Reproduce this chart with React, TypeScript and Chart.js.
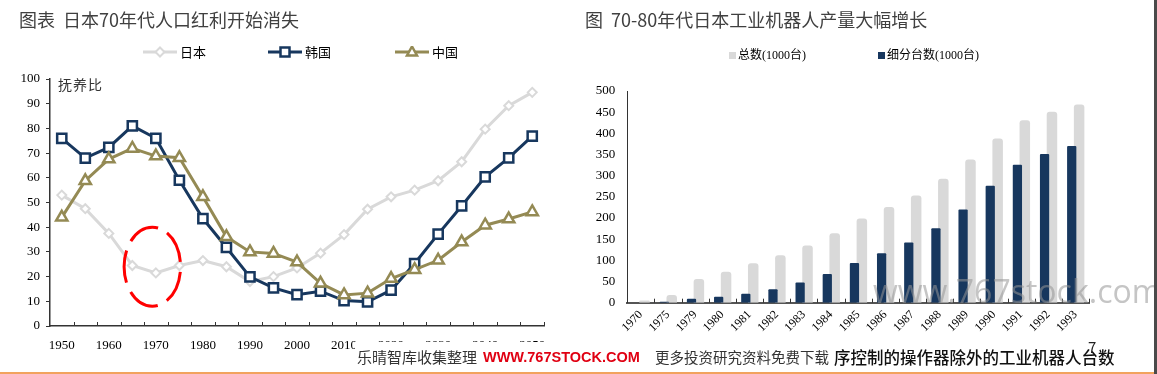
import React, { useEffect, useRef } from "react";
import { Chart, registerables } from "chart.js";

Chart.register(...registerables);

// ---------- Left chart data ----------
const YEARS = [
  "1950", "1955", "1960", "1965", "1970", "1975", "1980", "1985", "1990", "1995", "2000",
  "2005", "2010", "2015", "2020", "2025", "2030", "2035", "2040", "2045", "2050",
];
const JAPAN = [53, 47.5, 37.5, 24.5, 21.5, 24.5, 26.5, 24, 18, 20, 23.5, 29.5, 37, 47.3, 52.3, 55, 58.8, 66.5, 79.7, 89.2, 94.6];
const KOREA = [76, 68, 72.3, 81, 76, 59, 43.5, 31.8, 19.9, 15.4, 12.7, 14.1, 10.3, 9.8, 14.5, 25.3, 37.2, 48.6, 60.4, 68.1, 76.9];
const CHINA = [44, 58.8, 67.6, 71.9, 68.8, 68.1, 52.3, 36.1, 30, 29.4, 25.9, 17.3, 12.6, 13.3, 19.2, 22.8, 26.6, 34, 40.8, 43.3, 46.2];
const LEFT_SERIES_NAMES = ["日本", "韩国", "中国"];
const LEFT_Y_MAX = 100;
const LEFT_Y_STEP = 10;
// highlighted region (annotation) around 1970
const HIGHLIGHT_INDEX = 3.85;
const HIGHLIGHT_VALUE = 24;
const HIGHLIGHT_RX_CATS = 1.2;
const HIGHLIGHT_RY_VALUE = 16;
const HIGHLIGHT_DASHES = 5;

// ---------- Right chart data ----------
const BAR_YEARS = ["1970", "1975", "1979", "1980", "1981", "1982", "1983", "1984", "1985", "1986", "1987", "1988", "1989", "1990", "1991", "1992", "1993"];
const TOTAL = [5, 18, 56, 73, 93, 112, 135, 164, 199, 226, 253, 293, 338, 388, 431, 451, 468];
const SUBSET = [0, 2.5, 9.5, 14, 21, 32, 48, 68, 94, 117, 142, 176, 220, 276, 326, 351, 370];
const BAR_SERIES_NAMES = ["总数(1000台)", "细分台数(1000台)"];
const RIGHT_Y_MAX = 500;
const RIGHT_Y_STEP = 50;

const GRAY = "#D9D9D9";
const NAVY = "#17375E";
const OLIVE = "#948A54";
const SERIF = '"Liberation Serif", "Times New Roman", "Noto Sans CJK SC", serif';
const SANS_CJK = '"Noto Sans CJK SC", "Noto Sans", sans-serif';

const leftPlugin = {
  id: "leftDecor",
  afterDatasetsDraw(chart: any) {
    const { ctx, scales } = chart;
    const x = scales.x;
    const y = scales.y;
    const step = x.getPixelForValue(1) - x.getPixelForValue(0);
    const cx = x.getPixelForValue(0) + step * HIGHLIGHT_INDEX;
    const cy = y.getPixelForValue(HIGHLIGHT_VALUE);
    const rx = step * HIGHLIGHT_RX_CATS;
    const ry = Math.abs(y.getPixelForValue(0) - y.getPixelForValue(HIGHLIGHT_RY_VALUE));
    const perim = Math.PI * (3 * (rx + ry) - Math.sqrt((3 * rx + ry) * (rx + 3 * ry)));
    const period = perim / HIGHLIGHT_DASHES;
    const dash = period * 0.76;
    const gap = period - dash;
    ctx.save();
    ctx.strokeStyle = "#FF0000";
    ctx.lineWidth = 3;
    ctx.setLineDash([dash, gap]);
    ctx.lineDashOffset = dash + gap / 2;
    ctx.beginPath();
    ctx.ellipse(cx, cy, rx, ry, 0, 0, Math.PI * 2);
    ctx.stroke();
    ctx.restore();
  },
  afterDraw(chart: any) {
    const { ctx, chartArea } = chart;
    const n = YEARS.length;
    const w = (chartArea.right - chartArea.left) / n;
    ctx.save();
    ctx.strokeStyle = "#333";
    ctx.lineWidth = 1;
    for (let i = 1; i <= n; i++) {
      const px = Math.round(chartArea.left + i * w) + 0.5;
      ctx.beginPath();
      ctx.moveTo(px, chartArea.bottom);
      ctx.lineTo(px, chartArea.bottom - 4);
      ctx.stroke();
    }
    ctx.restore();
  },
};

const rightPlugin = {
  id: "rightDecor",
  afterDraw(chart: any) {
    const { ctx, chartArea } = chart;
    const n = BAR_YEARS.length;
    const w = (chartArea.right - chartArea.left) / n;
    ctx.save();
    ctx.strokeStyle = "#333";
    ctx.lineWidth = 1;
    for (let i = 1; i <= n; i++) {
      const px = Math.round(chartArea.left + i * w) + 0.5;
      ctx.beginPath();
      ctx.moveTo(px, chartArea.bottom);
      ctx.lineTo(px, chartArea.bottom - 4);
      ctx.stroke();
    }
    ctx.restore();
  },
};

function LeftChart() {
  const ref = useRef<HTMLCanvasElement>(null);
  useEffect(() => {
    const chart = new Chart(ref.current as HTMLCanvasElement, {
      type: "line",
      data: {
        labels: YEARS,
        datasets: [
          {
            label: LEFT_SERIES_NAMES[0],
            data: JAPAN,
            borderColor: GRAY,
            borderWidth: 3,
            pointStyle: "rectRot",
            pointRadius: 4.5,
            pointBorderWidth: 2,
            pointBackgroundColor: "#fff",
            pointBorderColor: GRAY,
            tension: 0,
            order: 2,
          },
          {
            label: LEFT_SERIES_NAMES[1],
            data: KOREA,
            borderColor: NAVY,
            borderWidth: 3,
            pointStyle: "rect",
            pointRadius: 6.5,
            pointBorderWidth: 2.5,
            pointBackgroundColor: "#fff",
            pointBorderColor: NAVY,
            tension: 0,
            order: 1,
          },
          {
            label: LEFT_SERIES_NAMES[2],
            data: CHINA,
            borderColor: OLIVE,
            borderWidth: 3,
            pointStyle: "triangle",
            pointRadius: 6.5,
            pointBorderWidth: 2.5,
            pointBackgroundColor: "#fff",
            pointBorderColor: OLIVE,
            tension: 0,
            order: 0,
          },
        ],
      },
      options: {
        responsive: false,
        animation: false,
        devicePixelRatio: 1,
        layout: { padding: { top: 79, right: 31, left: 0, bottom: 0 } },
        plugins: { legend: { display: false }, tooltip: { enabled: false } },
        scales: {
          x: {
            offset: true,
            grid: { display: false, drawTicks: false },
            border: { display: true, color: "#333", width: 1.5 },
            ticks: {
              autoSkip: false,
              maxRotation: 0,
              minRotation: 0,
              padding: 12,
              color: "#000",
              font: { family: SERIF, size: 13 },
              callback: (_v: any, i: number) => (i % 2 === 0 ? YEARS[i] : ""),
            },
            afterFit: (s: any) => {
              s.height = 48;
            },
          },
          y: {
            min: 0,
            max: LEFT_Y_MAX,
            ticks: { stepSize: LEFT_Y_STEP, padding: 6, color: "#000", font: { family: SERIF, size: 13 } },
            grid: { drawOnChartArea: false, tickLength: 4, color: "#333" },
            border: { display: true, color: "#333", width: 1.5 },
            afterFit: (s: any) => {
              s.width = 50;
            },
          },
        },
      } as any,
      plugins: [leftPlugin],
    });
    return () => chart.destroy();
  }, []);
  return (
    <canvas
      ref={ref}
      width={575}
      height={374}
      style={{ position: "absolute", left: 0, top: 0, width: 575, height: 374 }}
    />
  );
}

function RightChart() {
  const ref = useRef<HTMLCanvasElement>(null);
  useEffect(() => {
    const chart = new Chart(ref.current as HTMLCanvasElement, {
      type: "bar",
      data: {
        labels: BAR_YEARS,
        datasets: [
          {
            label: BAR_SERIES_NAMES[0],
            data: TOTAL,
            backgroundColor: GRAY,
            borderWidth: 0,
            borderRadius: 3,
            categoryPercentage: 0.545,
            barPercentage: 1.42,
            order: 1,
          },
          {
            label: BAR_SERIES_NAMES[1],
            data: SUBSET,
            backgroundColor: NAVY,
            borderWidth: 0,
            borderRadius: 1,
            categoryPercentage: 0.545,
            barPercentage: 1.25,
            order: 0,
          },
        ],
      },
      options: {
        responsive: false,
        animation: false,
        devicePixelRatio: 1,
        layout: { padding: { top: 91, right: 68, left: 0, bottom: 0 } },
        plugins: { legend: { display: false }, tooltip: { enabled: false } },
        scales: {
          x: {
            grid: { display: false, drawTicks: false },
            border: { display: true, color: "#555", width: 2 },
            ticks: {
              autoSkip: false,
              maxRotation: 45,
              minRotation: 45,
              padding: 5,
              color: "#000",
              font: { family: SERIF, size: 12 },
            },
            afterFit: (s: any) => {
              s.height = 71.3;
            },
          },
          y: {
            min: 0,
            max: RIGHT_Y_MAX,
            ticks: { stepSize: RIGHT_Y_STEP, padding: 12, color: "#000", font: { family: SERIF, size: 13 } },
            grid: { display: false, drawTicks: false },
            border: { display: true, color: "#333", width: 1 },
            afterFit: (s: any) => {
              s.width = 52.3;
            },
          },
        },
      } as any,
      plugins: [rightPlugin],
    });
    return () => chart.destroy();
  }, []);
  return (
    <canvas
      ref={ref}
      width={582}
      height={374}
      style={{ position: "absolute", left: 575, top: 0, width: 582, height: 374 }}
    />
  );
}

const abs = (left: number, top: number, extra: any = {}): any => ({
  position: "absolute",
  left,
  top,
  whiteSpace: "nowrap",
  ...extra,
});

function LegendLine({ left, color, shape }: { left: number; color: string; shape: string }) {
  let marker: any = null;
  if (shape === "diamond") {
    marker = <polygon points="17,1.5 21.5,6 17,10.5 12.5,6" fill="#fff" stroke={color} strokeWidth={2} />;
  } else if (shape === "square") {
    marker = <rect x={12.5} y={1.5} width={9} height={9} fill="#fff" stroke={color} strokeWidth={2.5} />;
  } else {
    marker = <polygon points="17,0.5 22,9.5 12,9.5" fill="#fff" stroke={color} strokeWidth={2.5} />;
  }
  return (
    <svg width={34} height={12} style={abs(left, 46)}>
      <line x1={0} y1={6} x2={34} y2={6} stroke={color} strokeWidth={3} />
      {marker}
    </svg>
  );
}

export default function App() {
  const legendText = { fontFamily: SERIF, fontSize: 13, color: "#000", lineHeight: "13px" };
  return (
    <div
      style={{
        position: "fixed",
        left: 0,
        top: 0,
        width: 1157,
        height: 374,
        background: "#fff",
        overflow: "hidden",
      }}
    >
      <LeftChart />
      <RightChart />

      {/* Titles */}
      <div style={abs(19, 9, { fontFamily: SANS_CJK, fontSize: 18, lineHeight: "20px", color: "#404040" })}>
        图表&nbsp;&nbsp;日本70年代人口红利开始消失
      </div>
      <div style={abs(585, 9, { fontFamily: SANS_CJK, fontSize: 18, lineHeight: "20px", color: "#404040" })}>
        图&nbsp;&nbsp;70-80年代日本工业机器人产量大幅增长
      </div>

      {/* Left legend */}
      <LegendLine left={143} color={GRAY} shape="diamond" />
      <div style={abs(180, 45.5, legendText)}>{LEFT_SERIES_NAMES[0]}</div>
      <LegendLine left={268} color={NAVY} shape="square" />
      <div style={abs(305, 45.5, legendText)}>{LEFT_SERIES_NAMES[1]}</div>
      <LegendLine left={395} color={OLIVE} shape="triangle" />
      <div style={abs(432, 45.5, legendText)}>{LEFT_SERIES_NAMES[2]}</div>

      {/* Axis annotation */}
      <div style={abs(58, 79, { fontFamily: SERIF, fontSize: 14, lineHeight: "14px", color: "#333", letterSpacing: 1 })}>
        抚养比
      </div>

      {/* Right legend */}
      <div style={abs(729, 52, { width: 7, height: 7, background: GRAY })} />
      <div style={abs(738, 48.5, { ...legendText, fontSize: 12, lineHeight: "13px" })}>{BAR_SERIES_NAMES[0]}</div>
      <div style={abs(878, 52, { width: 7, height: 7, background: NAVY })} />
      <div style={abs(887, 48.5, { ...legendText, fontSize: 12, lineHeight: "13px" })}>{BAR_SERIES_NAMES[1]}</div>

      {/* Large watermark */}
      <div
        style={abs(873, 275, {
          fontFamily: '"Open Sans", "Liberation Sans", sans-serif',
          fontSize: 32,
          lineHeight: "32px",
          color: "rgba(150,150,150,0.55)",
        })}
      >
        www.767stock.com
      </div>

      {/* Bottom source/watermark strip */}
      <div style={abs(355, 342, { width: 478, height: 29, background: "#fff" })} />
      <div style={abs(357, 349, { fontFamily: SANS_CJK, fontSize: 15, lineHeight: "16px", color: "#333" })}>
        乐晴智库收集整理
      </div>
      <div
        style={abs(483, 349, {
          fontFamily: '"Liberation Sans", Arial, sans-serif',
          fontWeight: 700,
          fontSize: 14.5,
          lineHeight: "16px",
          color: "#E00012",
        })}
      >
        WWW.767STOCK.COM
      </div>
      <div style={abs(655, 349, { fontFamily: SANS_CJK, fontSize: 14.5, lineHeight: "16px", color: "#333" })}>
        更多投资研究资料免费下载
      </div>
      <div style={abs(834, 348, { fontFamily: SANS_CJK, fontSize: 16.5, lineHeight: "18px", color: "#111", fontWeight: 500 })}>
        序控制的操作器除外的工业机器人台数
      </div>
      <div style={abs(1088, 339, { fontFamily: SANS_CJK, fontSize: 15, lineHeight: "16px", color: "#222" })}>7</div>

      {/* Page frame */}
      <div style={abs(1154, 0, { width: 3, height: 374, background: "#4a4a4a" })} />
      <div style={abs(0, 372, { width: 1154, height: 2, background: "#F2A35E" })} />
    </div>
  );
}
